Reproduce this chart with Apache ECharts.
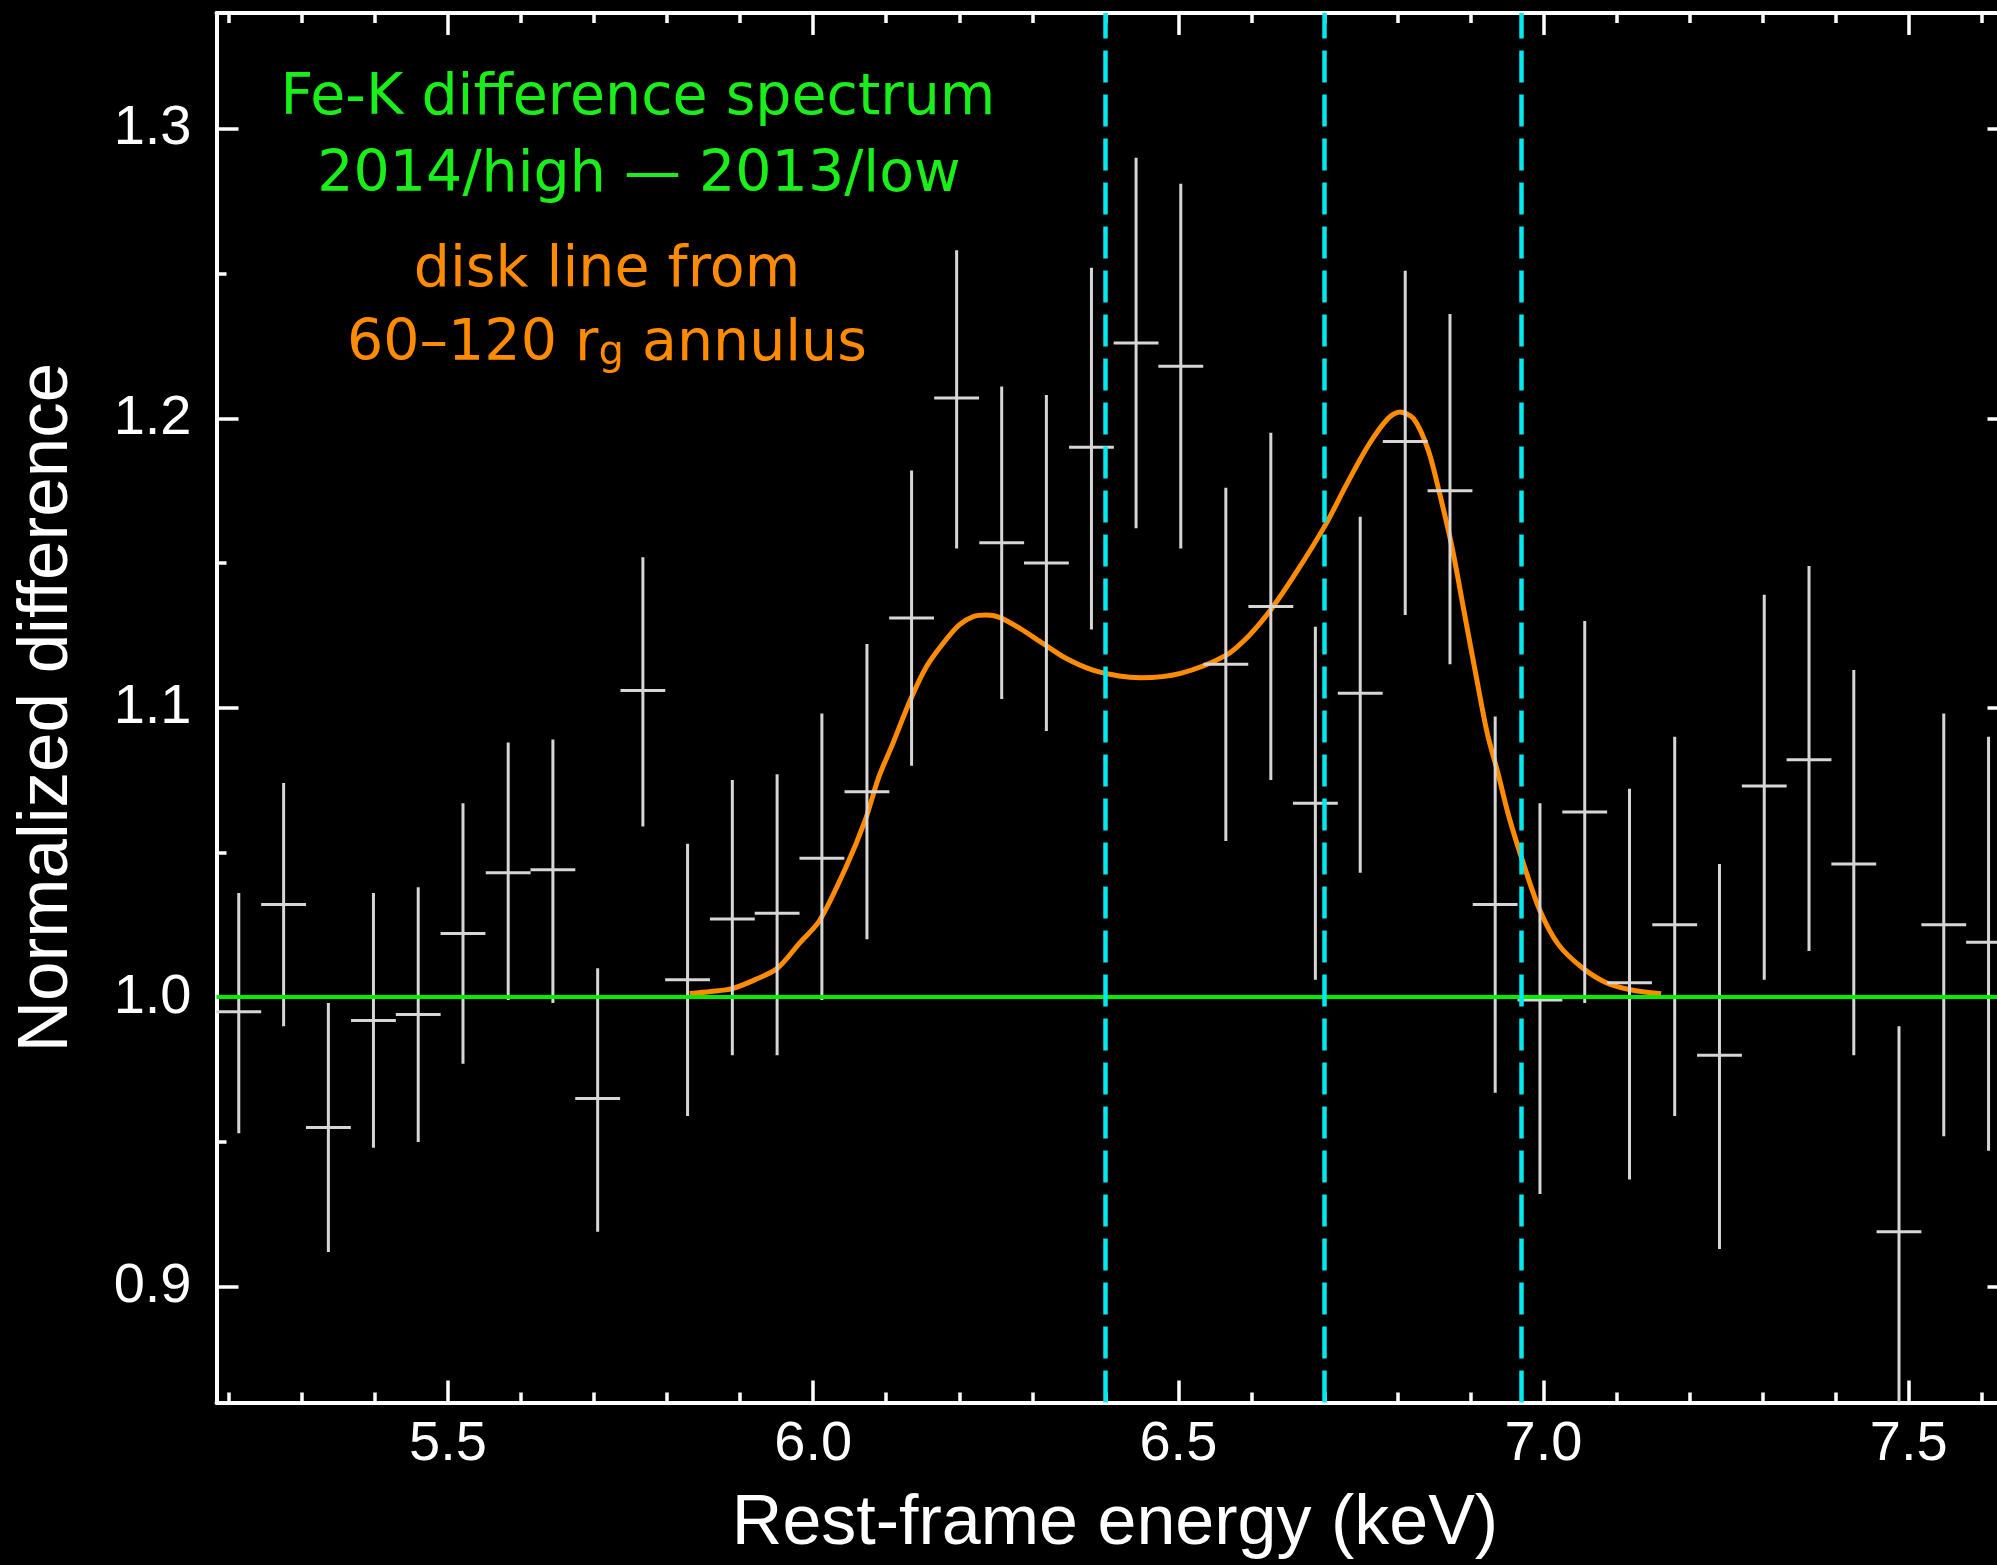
<!DOCTYPE html>
<html><head><meta charset="utf-8">
<script src="https://cdn.jsdelivr.net/npm/echarts@6.0.0/dist/echarts.min.js"></script>
<style>html,body{margin:0;padding:0;background:#000;} #chart{width:1997px;height:1565px;}</style>
</head><body><div id="chart"></div>
<script>
// ---- data ----
const energy = [5.2135, 5.2749, 5.3362, 5.3979, 5.4592, 5.5205, 5.5824, 5.6436, 5.7049, 5.7668,
  5.8280, 5.8893, 5.9506, 6.0119, 6.0736, 6.1347, 6.1964, 6.2581, 6.3193, 6.3810,
  6.4421, 6.5033, 6.5650, 6.6266, 6.6876, 6.7490, 6.8106, 6.8719, 6.9338, 6.9951,
  7.0564, 7.1177, 7.1796, 7.2409, 7.3022, 7.3635, 7.4248, 7.4867, 7.5480, 7.6093];
const ratio = [0.995, 1.032, 0.955, 0.992, 0.994, 1.022, 1.043, 1.044, 0.965, 1.106,
  1.006, 1.027, 1.029, 1.048, 1.071, 1.131, 1.207, 1.157, 1.150, 1.190,
  1.226, 1.218, 1.115, 1.135, 1.067, 1.105, 1.192, 1.175, 1.032, 0.999,
  1.064, 1.005, 1.025, 0.980, 1.073, 1.082, 1.046, 0.919, 1.025, 1.019];
const errLow = [0.953, 0.990, 0.912, 0.948, 0.950, 0.977, 0.999, 0.998, 0.919, 1.059,
  0.959, 0.980, 0.980, 0.999, 1.020, 1.080, 1.155, 1.103, 1.092, 1.127,
  1.162, 1.155, 1.054, 1.075, 1.006, 1.043, 1.132, 1.115, 0.967, 0.932,
  0.998, 0.937, 0.959, 0.913, 1.006, 1.016, 0.980, 0.848, 0.952, 0.947];
const errHigh = [1.036, 1.074, 0.998, 1.036, 1.038, 1.067, 1.088, 1.089, 1.010, 1.152,
  1.053, 1.075, 1.077, 1.098, 1.122, 1.182, 1.258, 1.211, 1.208, 1.252,
  1.290, 1.281, 1.176, 1.195, 1.128, 1.166, 1.251, 1.236, 1.097, 1.067,
  1.130, 1.072, 1.090, 1.046, 1.139, 1.149, 1.113, 0.990, 1.098, 1.090];
const binHalfWidth = 0.0307;

const modelEnergy = [5.831, 5.860, 5.889, 5.920, 5.951, 5.981, 6.009, 6.045, 6.071, 6.090,
  6.109, 6.133, 6.155, 6.178, 6.200, 6.219, 6.237, 6.255, 6.283, 6.314,
  6.346, 6.383, 6.419, 6.448, 6.503, 6.565, 6.597, 6.627, 6.662, 6.701,
  6.730, 6.760, 6.787, 6.803, 6.822, 6.842, 6.858, 6.875, 6.891, 6.907,
  6.923, 6.937, 6.953, 6.974, 6.995, 7.021, 7.054, 7.086, 7.119, 7.161];
const modelValue = [1.0013, 1.002, 1.003, 1.006, 1.010, 1.0186, 1.0266, 1.045, 1.061, 1.0762,
  1.0876, 1.1027, 1.1142, 1.1223, 1.1286, 1.1315, 1.132, 1.1312, 1.1274, 1.1223,
  1.1171, 1.1130, 1.1110, 1.1104, 1.1119, 1.1181, 1.125, 1.134, 1.147, 1.163,
  1.177, 1.1906, 1.1999, 1.2022, 1.1999, 1.1891, 1.1737, 1.1551, 1.1335, 1.1119,
  1.0911, 1.078, 1.062, 1.045, 1.030, 1.018, 1.010, 1.005, 1.0026, 1.0012];

const baselineValue = 1.0;
const lineEnergies = [6.403, 6.701, 6.974];

const xRange = [5.183, 7.638];
const yRange = [0.86, 1.34];
const xMajorTicks = [5.5, 6.0, 6.5, 7.0, 7.5];
const xMinorTicks = [5.2, 5.3, 5.4, 5.6, 5.7, 5.8, 5.9, 6.1, 6.2, 6.3, 6.4, 6.6, 6.7, 6.8, 6.9, 7.1, 7.2, 7.3, 7.4, 7.6];
const yMajorTicks = [0.9, 1.0, 1.1, 1.2, 1.3];
const yMinorTicks = [0.95, 1.05, 1.15, 1.25];

const xTitle = 'Rest-frame energy (keV)';
const yTitle = 'Normalized difference';
const noteLines = ['Fe-K difference spectrum', '2014/high \u2014 2013/low', 'disk line from', '60\u2013120 r{sub|g} annulus'];

// ---- chart ----
const chart = echarts.init(document.getElementById('chart'), null, {renderer: 'canvas'});
const AX = '#ffffff';
const tickFont = 'Liberation Sans';
const MAJ = 22, MIN = 10, TW = 3.5;

function xAx(pos, ticks, len, line, labels) {
  return {
    type: 'value', position: pos, min: xRange[0], max: xRange[1], gridIndex: 0,
    axisLine: {show: line, onZero: false, lineStyle: {color: AX, width: 4}},
    axisTick: {show: true, inside: true, length: len, customValues: ticks, lineStyle: {color: AX, width: TW}},
    axisLabel: labels ? {show: true, customValues: ticks, color: AX, fontFamily: tickFont, fontSize: 56, margin: 14,
      formatter: v => v.toFixed(1)} : {show: false},
    splitLine: {show: false}, minorTick: {show: false}
  };
}
function yAx(pos, ticks, len, line, labels) {
  return {
    type: 'value', position: pos, min: yRange[0], max: yRange[1], gridIndex: 0,
    axisLine: {show: line, onZero: false, lineStyle: {color: AX, width: 4}},
    axisTick: {show: true, inside: true, length: len, customValues: ticks, lineStyle: {color: AX, width: TW}},
    axisLabel: labels ? {show: true, customValues: ticks, color: AX, fontFamily: tickFont, fontSize: 56, margin: 25,
      formatter: v => v.toFixed(1)} : {show: false},
    splitLine: {show: false}, minorTick: {show: false}
  };
}

const xAxes = [xAx('bottom', xMajorTicks, MAJ, true, true), xAx('bottom', xMinorTicks, MIN, false, false),
  xAx('top', xMajorTicks, MAJ, true, false), xAx('top', xMinorTicks, MIN, false, false)];
const yAxes = [yAx('left', yMajorTicks, MAJ, true, true), yAx('left', yMinorTicks, MIN, false, false),
  yAx('right', yMajorTicks, MAJ, true, false), yAx('right', yMinorTicks, MIN, false, false)];

const barData = energy.map((e, i) => [e, ratio[i], errLow[i], errHigh[i]]);
const modelData = modelEnergy.map((e, i) => [e, modelValue[i]]);

const noteFont = 'DejaVu Sans';
const option = {
  backgroundColor: '#000000',
  animation: false,
  grid: {left: 216.5, top: 13, width: 1793, height: 1389.5, containLabel: false, outerBoundsMode: 'none'},
  xAxis: xAxes,
  yAxis: yAxes,
  series: [
    {
      type: 'line', name: 'baseline', data: [], z: 1,
      markLine: {silent: true, symbol: ['none', 'none'], label: {show: false},
        lineStyle: {color: '#00ee00', width: 4, type: 'solid'},
        data: [{yAxis: baselineValue}]}
    },
    {
      type: 'line', name: 'disk line model', data: modelData, z: 2,
      showSymbol: false, smooth: 0.3, clip: true,
      lineStyle: {color: '#ff8c00', width: 5}
    },
    {
      type: 'custom', name: 'difference spectrum', z: 3, clip: true,
      data: barData, encode: {x: 0, y: [1, 2, 3]},
      renderItem: function (params, api) {
        const x = api.value(0), y = api.value(1), lo = api.value(2), hi = api.value(3);
        const pLo = api.coord([x, lo]), pHi = api.coord([x, hi]);
        const pL = api.coord([x - binHalfWidth, y]), pR = api.coord([x + binHalfWidth, y]);
        const st = {stroke: '#d6d6d6', lineWidth: 3};
        return {type: 'group', children: [
          {type: 'line', shape: {x1: pLo[0], y1: pLo[1], x2: pHi[0], y2: pHi[1]}, style: st},
          {type: 'line', shape: {x1: pL[0], y1: pL[1], x2: pR[0], y2: pR[1]}, style: st}
        ]};
      }
    },
    {
      type: 'line', name: 'line energies', data: [], z: 4,
      markLine: {silent: true, symbol: ['none', 'none'], label: {show: false},
        lineStyle: {color: '#00e8f0', width: 4.5, type: [32, 12]},
        data: lineEnergies.map(e => ({xAxis: e}))}
    }
  ],
  graphic: [
    {type: 'text', x: 1115, y: 1525, z: 10, style: {text: xTitle, fill: AX, fontFamily: tickFont, fontSize: 70, align: 'center', verticalAlign: 'middle'}},
    {type: 'text', x: 47.5, y: 707.5, rotation: Math.PI / 2, z: 10, style: {text: yTitle, fill: AX, fontFamily: tickFont, fontSize: 71, align: 'center', verticalAlign: 'middle'}},
    {type: 'text', x: 638, y: 99, z: 10, style: {text: noteLines[0], fill: '#19f019', fontFamily: noteFont, fontSize: 57, align: 'center', verticalAlign: 'middle'}},
    {type: 'text', x: 639, y: 176, z: 10, style: {text: noteLines[1], fill: '#19f019', fontFamily: noteFont, fontSize: 57, align: 'center', verticalAlign: 'middle'}},
    {type: 'text', x: 607, y: 271, z: 10, style: {text: noteLines[2], fill: '#ff8c00', fontFamily: noteFont, fontSize: 57, align: 'center', verticalAlign: 'middle'}},
    {type: 'text', x: 607, y: 345, z: 10, style: {text: noteLines[3], fill: '#ff8c00', fontFamily: noteFont, fontSize: 57, align: 'center', verticalAlign: 'middle',
      rich: {sub: {fontSize: 40, fontFamily: noteFont, fill: '#ff8c00', verticalAlign: 'bottom', lineHeight: 36}}}}
  ]
};
chart.setOption(option);
</script>
</body></html>
